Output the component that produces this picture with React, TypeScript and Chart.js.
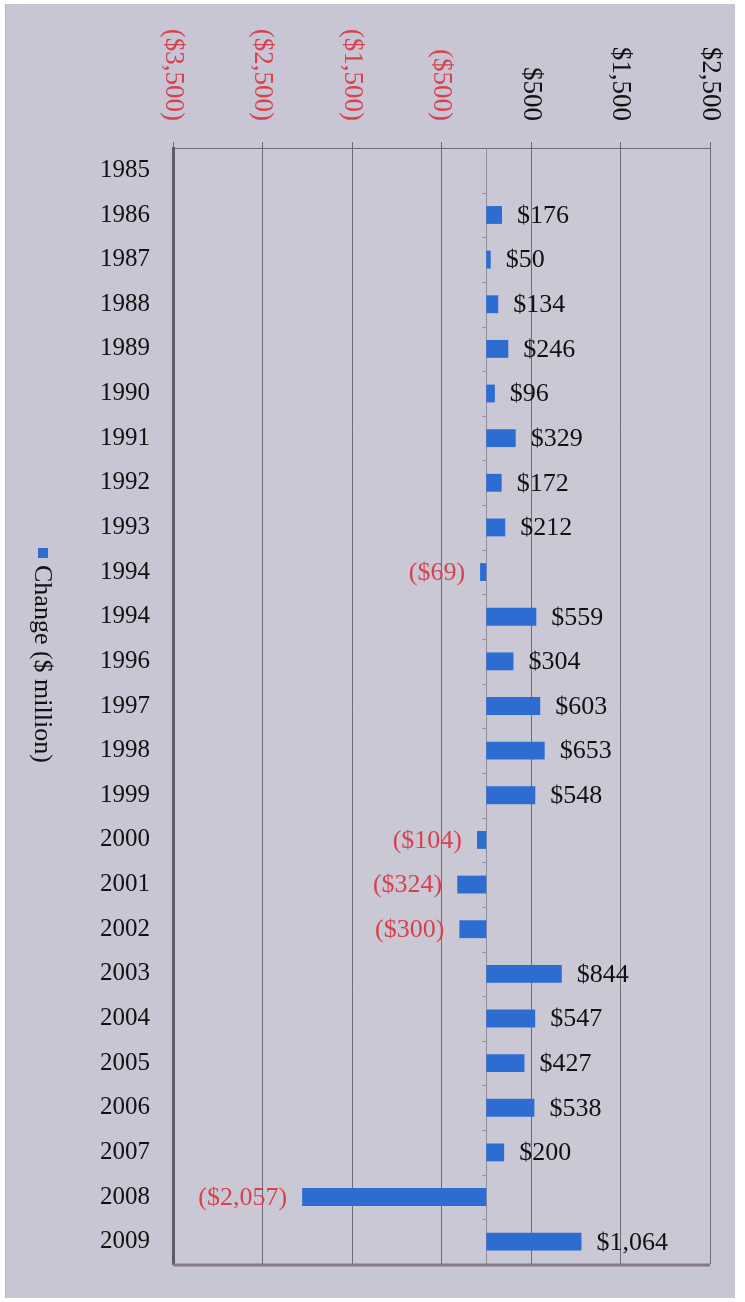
import React, { useEffect, useRef } from "react";
import { Chart, registerables } from "chart.js";

Chart.register(...registerables);

const years = [
  "1985", "1986", "1987", "1988", "1989", "1990", "1991", "1992", "1993", "1994",
  "1994", "1996", "1997", "1998", "1999", "2000", "2001", "2002", "2003", "2004",
  "2005", "2006", "2007", "2008", "2009",
];
const changeValues: (number | null)[] = [
  null, 176, 50, 134, 246, 96, 329, 172, 212, -69,
  559, 304, 603, 653, 548, -104, -324, -300, 844, 547,
  427, 538, 200, -2057, 1064,
];
const xTickValues = [-3500, -2500, -1500, -500, 500, 1500, 2500];
const seriesLabel = "Change ($ million)";

const FONT = "'Liberation Serif', 'Times New Roman', serif";
const RED = "#d8424f";
const BLUE = "#2d6dd2";
const PANEL = "#c8c5d4";
const PLOT_BG = "#cbc8d6";
const GRID = "#6c6b76";

const money = (v: number) =>
  v < 0 ? `($${Math.abs(v).toLocaleString("en-US")})` : `$${v.toLocaleString("en-US")}`;

const decorPlugin = {
  id: "decor",
  beforeDraw(chart: any) {
    const { ctx, width, height, chartArea } = chart;
    ctx.save();
    ctx.fillStyle = "#ffffff";
    ctx.fillRect(0, 0, width, height);
    ctx.fillStyle = PANEL;
    ctx.fillRect(5, 4, 730, 1294);
    ctx.strokeStyle = "#b4b1c0";
    ctx.lineWidth = 1;
    ctx.beginPath();
    ctx.moveTo(5.5, 4);
    ctx.lineTo(5.5, 1298);
    ctx.stroke();
    ctx.fillStyle = PLOT_BG;
    ctx.fillRect(chartArea.left, chartArea.top, chartArea.right - chartArea.left, chartArea.bottom - chartArea.top);
    ctx.restore();
  },
  beforeDatasetsDraw(chart: any) {
    const { ctx, chartArea, scales } = chart;
    const x0 = Math.round(scales.x.getPixelForValue(0)) + 0.5;
    ctx.save();
    ctx.strokeStyle = "#8f8d9c";
    ctx.lineWidth = 1;
    ctx.beginPath();
    ctx.moveTo(x0, chartArea.top);
    ctx.lineTo(x0, chartArea.bottom);
    const n = years.length;
    const step = (chartArea.bottom - chartArea.top) / n;
    for (let k = 1; k < n; k++) {
      const y = Math.round(chartArea.top + k * step) + 0.5;
      ctx.moveTo(x0 - 4, y);
      ctx.lineTo(x0, y);
    }
    ctx.stroke();
    // bottom shadow
    ctx.strokeStyle = "#857a85";
    ctx.lineWidth = 3;
    ctx.beginPath();
    ctx.moveTo(chartArea.left, chartArea.bottom + 1);
    ctx.lineTo(chartArea.right, chartArea.bottom + 1);
    ctx.stroke();
    ctx.restore();
  },
  afterDraw(chart: any) {
    const { ctx, scales } = chart;
    const xs = scales.x;
    ctx.save();
    // rotated x tick labels
    ctx.font = `27px ${FONT}`;
    xTickValues.forEach((v) => {
      const px = xs.getPixelForValue(v);
      ctx.save();
      ctx.translate(px, 121);
      ctx.rotate(Math.PI / 2);
      ctx.textAlign = "right";
      ctx.textBaseline = "middle";
      ctx.fillStyle = v < 0 ? RED : "#111111";
      ctx.fillText(money(v), 0, 0);
      ctx.restore();
    });
    // data labels
    const meta = chart.getDatasetMeta(0);
    ctx.font = `26px ${FONT}`;
    ctx.textBaseline = "middle";
    meta.data.forEach((bar: any, i: number) => {
      const v = changeValues[i];
      if (v === null || v === undefined) return;
      if (v >= 0) {
        ctx.textAlign = "left";
        ctx.fillStyle = "#111111";
        ctx.fillText(money(v), bar.x + 15, bar.y + 1);
      } else {
        ctx.textAlign = "right";
        ctx.fillStyle = RED;
        ctx.fillText(money(v), bar.x - 15, bar.y + 1);
      }
    });
    // rotated legend
    ctx.save();
    ctx.translate(43, 548);
    ctx.rotate(Math.PI / 2);
    ctx.fillStyle = BLUE;
    ctx.fillRect(0, -5, 10, 10);
    ctx.font = `26px ${FONT}`;
    ctx.fillStyle = "#111111";
    ctx.textAlign = "left";
    ctx.textBaseline = "middle";
    ctx.fillText(seriesLabel, 17, 1);
    ctx.restore();
    ctx.restore();
  },
};

export default function App() {
  const canvasRef = useRef<HTMLCanvasElement | null>(null);

  useEffect(() => {
    if (!canvasRef.current) return;
    const chart = new Chart(canvasRef.current, {
      type: "bar",
      data: {
        labels: years,
        datasets: [
          {
            label: seriesLabel,
            data: changeValues as any,
            backgroundColor: BLUE,
            borderWidth: 0,
            barPercentage: 0.4,
            categoryPercentage: 1.0,
          },
        ],
      },
      options: {
        indexAxis: "y",
        animation: false,
        responsive: false,
        maintainAspectRatio: false,
        layout: { padding: { left: 0, top: 0, right: 35, bottom: 32 } },
        plugins: {
          legend: { display: false },
          tooltip: { enabled: false },
        },
        scales: {
          x: {
            type: "linear",
            position: "top",
            min: -3500,
            max: 2500,
            afterBuildTicks: (scale: any) => {
              scale.ticks = xTickValues.map((v) => ({ value: v }));
            },
            afterFit: (scale: any) => {
              scale.height = 148;
            },
            ticks: { display: false },
            grid: { color: GRID, lineWidth: 1, drawTicks: true, tickLength: 6 },
            border: { display: true, color: GRID, width: 1 },
          },
          y: {
            type: "category",
            position: "left",
            afterFit: (scale: any) => {
              scale.width = 173;
            },
            ticks: {
              color: "#111111",
              font: { family: FONT, size: 25 },
              padding: 23,
              autoSkip: false,
            },
            grid: { display: false, drawTicks: false },
            border: { display: true, color: "#5e5c66", width: 3 },
          },
        },
      },
      plugins: [decorPlugin],
    });
    return () => chart.destroy();
  }, []);

  return (
    <div style={{ position: "absolute", left: 0, top: 0, width: 745, height: 1302 }}>
      <canvas ref={canvasRef} width={745} height={1302} style={{ display: "block" }} />
    </div>
  );
}
